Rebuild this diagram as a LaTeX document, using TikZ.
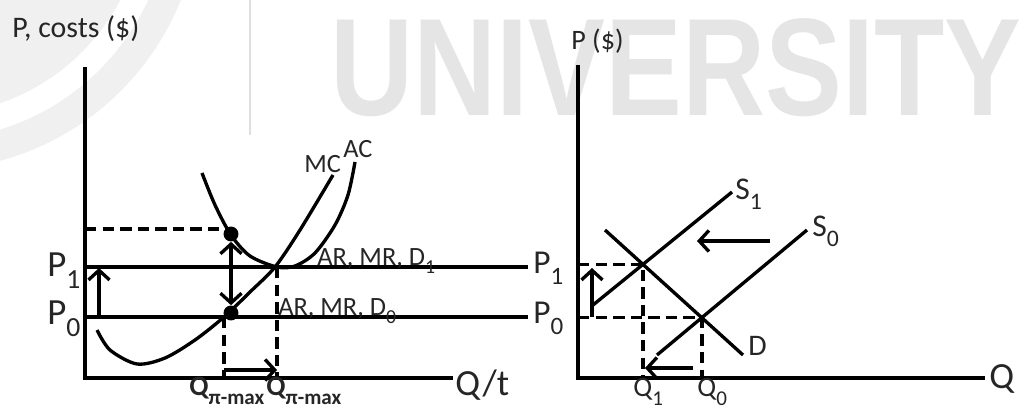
\documentclass[tikz,border=0pt]{standalone}
\usepackage{fontspec}
\setmainfont{Carlito}
\newfontfamily\wmfont{Liberation Sans}
\usetikzlibrary{arrows.meta}
\tikzstyle{dot}=[circle,fill=black,minimum size=8.5pt,inner sep=0pt]
\tikzstyle{axisline}=[line width=2.2pt]
\tikzstyle{costcurve}=[line width=1.9pt]
\tikzstyle{pline}=[line width=1.9pt]
\tikzstyle{dashline}=[line width=1.9pt,dash pattern=on 6.5pt off 3.5pt]
\tikzstyle{shiftarrow}=[line width=1.9pt,-{Straight Barb[length=5.5pt,width=12pt]}]
\tikzstyle{lbl}=[inner sep=0pt,anchor=base west,text=black!85]
\newcommand{\lsub}[1]{\raisebox{-0.7ex}{\scalebox{0.75}{#1}}}
\newcommand{\fsz}[1]{\fontsize{#1}{#1}\selectfont}

\begin{document}
\begin{tikzpicture}[x=0.02cm,y=-0.02cm]
\useasboundingbox (0,0) rectangle (1029,410);
\begin{scope}
\clip (0,0) rectangle (1029,410);
\fill[gray!12,even odd rule] (-70,-100) circle[radius=5.4cm] circle[radius=4.8cm] circle[radius=4.3cm];
\end{scope}
\draw[gray!25,line width=0.6pt] (250,0) -- (250,135);
\node[lbl,text=gray!20] (wm) at (330,115) {\scalebox{0.83}[1]{\wmfont\bfseries\fsz{79}UNIVERSITY}};

% firm
\coordinate (O1) at (85,378);
\coordinate (Y1) at (85,67);
\coordinate (X1) at (453,378);
\draw[axisline] (Y1) -- (O1) -- (X1);
\node[lbl] (ylab1) at (12,37) {\fsz{17}P, costs (\$)};
\node[lbl] (xlab1) at (455,395) {\fsz{21}Q/t};

\coordinate (p1a) at (85,267);
\coordinate (p1b) at (528,267);
\coordinate (p0a) at (85,317);
\coordinate (p0b) at (528,317);
\draw[pline] (p1a) -- (p1b);
\draw[pline] (p0a) -- (p0b);
\node[lbl] (p1l) at (47,276) {\fsz{21}P\lsub{1}};
\node[lbl] (p0l) at (47,324) {\fsz{21}P\lsub{0}};
\node[lbl] (p1r) at (533,273) {\fsz{19}P\lsub{1}};
\node[lbl] (p0r) at (533,323) {\fsz{19}P\lsub{0}};
\node[lbl] (d1l) at (317,265) {\fsz{15}AR, MR, D\lsub{1}};
\node[lbl] (d0l) at (278,315) {\fsz{15}AR, MR, D\lsub{0}};

\draw[costcurve] plot[smooth] coordinates {(97,330) (110,350) (137,364) (165,358) (195,340) (224,317) (250,292) (275,267) (300,230) (333,175)};
\draw[costcurve] plot[smooth] coordinates {(202,173) (215,205) (231,235) (250,256) (277,267) (295,266) (315,253) (335,225) (348,195) (355,162)};
\node[lbl] (mc) at (304,172) {\fsz{15}MC};
\node[lbl] (ac) at (343,157) {\fsz{15}AC};

\node[dot] (dhi) at (231,234) {};
\node[dot] (dlo) at (231,313) {};
\coordinate (ctop) at (85,229);
\draw[dashline] (ctop) -- (ctop -| dhi.west);
\draw[line width=1.9pt,{Straight Barb[length=5.5pt,width=12pt]}-{Straight Barb[length=5.5pt,width=12pt]}] (dlo) -- (dhi);

\coordinate (a1) at (99,317);
\coordinate (a2) at (99,268);
\draw[shiftarrow] (a1) -- (a2);

\coordinate (qa) at (224,317);
\coordinate (qb) at (277,267);
\draw[dashline] (qa) -- (qa |- O1);
\draw[dashline] (qb) -- (qb |- O1);
\coordinate (m1) at (224,370);
\coordinate (m2) at (277,370);
\draw[shiftarrow] (m1) -- (m2);
\node[lbl] (qal) at (189,395) {\fsz{16}\bfseries Q\lsub{π-max}};
\node[lbl] (qbl) at (266,395) {\fsz{16}\bfseries Q\lsub{π-max}};

% market
\coordinate (O2) at (578,378);
\coordinate (Y2) at (578,65);
\coordinate (X2) at (985,378);
\draw[axisline] (Y2) -- (O2) -- (X2);
\node[lbl] (ylab2) at (571,49) {\fsz{16}P (\$)};
\node[lbl] (xlab2) at (989,388) {\fsz{21}Q};

\coordinate (s1a) at (593,305);
\coordinate (s1b) at (732,192);
\coordinate (s0a) at (657,355);
\coordinate (s0b) at (807,230);
\coordinate (da) at (605,230);
\coordinate (db) at (743,355);
\draw[pline] (s1a) -- (s1b);
\draw[pline] (s0a) -- (s0b);
\draw[pline] (da) -- (db);
\node[lbl] (s1l) at (735,199) {\fsz{18}S\lsub{1}};
\node[lbl] (s0l) at (812,236) {\fsz{18}S\lsub{0}};
\node[lbl] (dl) at (748,355) {\fsz{17}D};

\coordinate (e1) at (intersection of s1a--s1b and da--db);
\coordinate (e0) at (intersection of s0a--s0b and da--db);
\draw[dashline] (e1 -| O2) -- (e1) -- (e1 |- O2);
\draw[dashline] (e0 -| O2) -- (e0) -- (e0 |- O2);
\node[lbl] (q1l) at (633,396) {\fsz{16}Q\lsub{1}};
\node[lbl] (q0l) at (697,396) {\fsz{16}Q\lsub{0}};

\coordinate (sh1) at (770,241);
\coordinate (sh2) at (697,241);
\draw[shiftarrow] (sh1) -- (sh2);
\coordinate (sh3) at (693,368);
\coordinate (sh4) at (645,368);
\draw[shiftarrow] (sh3) -- (sh4);
\coordinate (u1) at (592,317);
\coordinate (u2) at (592,268);
\draw[shiftarrow] (u1) -- (u2);
\end{tikzpicture}
\end{document}
